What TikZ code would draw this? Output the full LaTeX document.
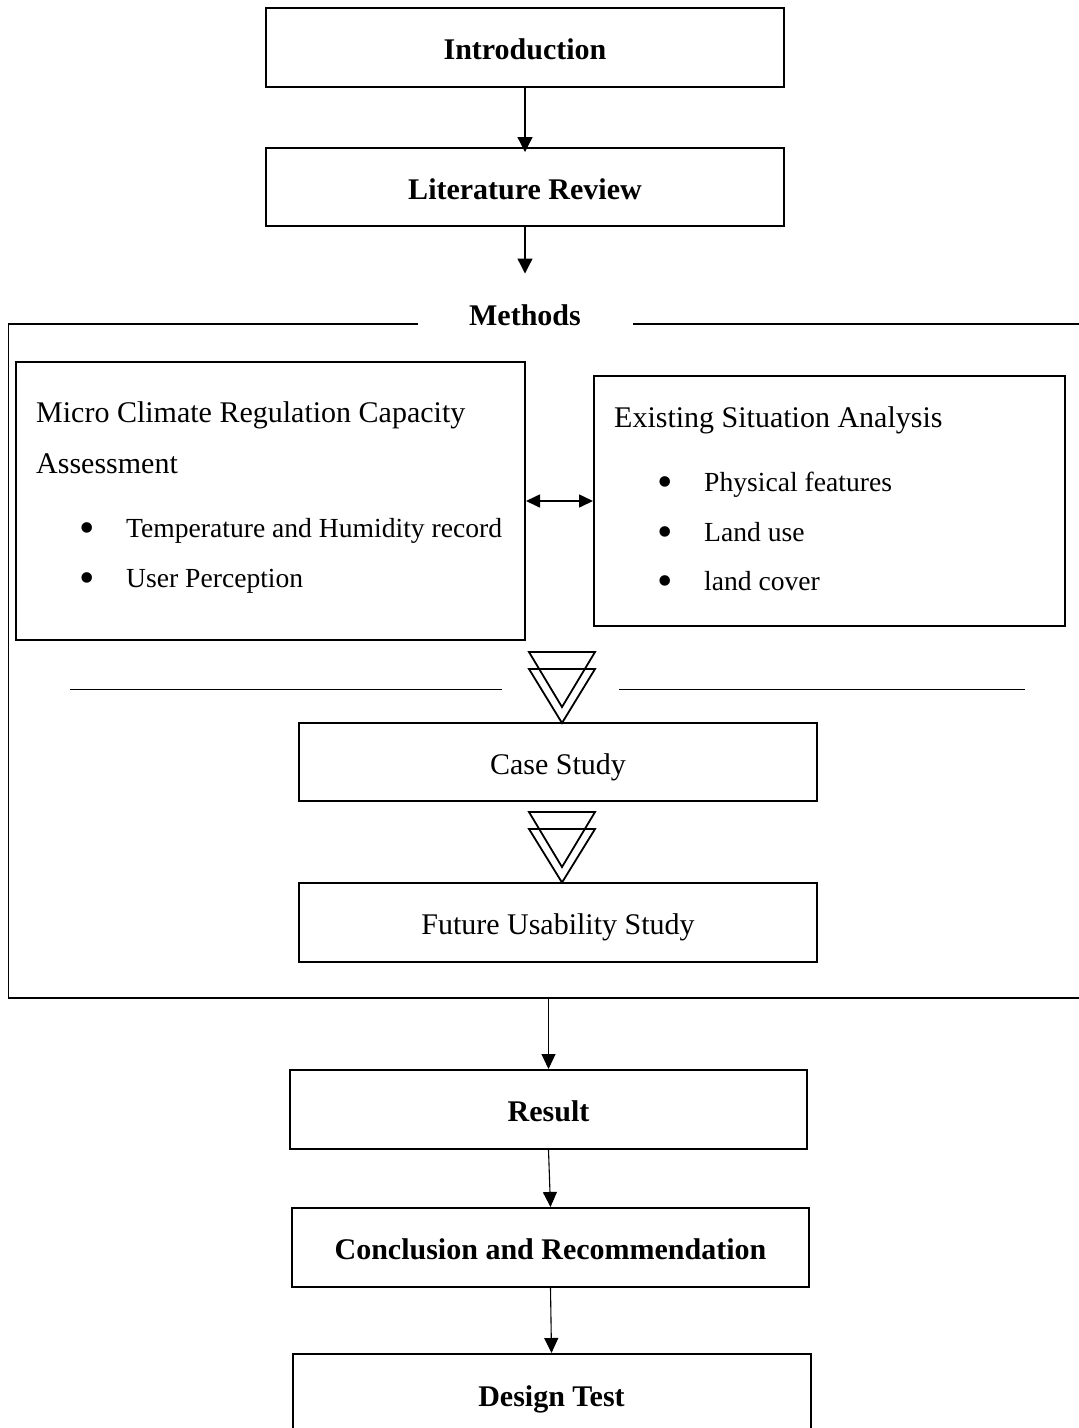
\documentclass[tikz,border=0pt]{standalone}
\usepackage{fontspec}
\setmainfont{Liberation Serif}
\usetikzlibrary{arrows.meta}
\begin{document}
\begin{tikzpicture}[x=1pt,y=-1pt,
  font=\fontsize{30}{36}\selectfont,
  box/.style={draw, line width=2pt, inner sep=0pt, text height=24pt, text depth=0pt, minimum width=518pt, minimum height=78pt},
  bigbox/.style={draw, line width=2pt, inner sep=0pt},
  arr/.style={line width=1.3pt, -{Triangle[width=15pt,length=15pt]}},
  lowarr/.style={line width=1.1pt, -{Triangle[width=14pt,length=15pt]}},
  dbl/.style={line width=1.6pt, {Triangle[width=13pt,length=14pt]}-{Triangle[width=13pt,length=14pt]}},
  lbl/.style={anchor=base west, inner sep=0pt},
  item/.style={anchor=base west, inner sep=0pt, font=\fontsize{27.6}{33}\selectfont},
  bul/.style={anchor=base, inner sep=0pt, font=\fontsize{44}{44}\selectfont},
  tri/.style={line width=1.8pt, line join=miter},
  frame/.style={line width=2.4pt},
  thinframe/.style={line width=1.3pt},
  rule/.style={line width=1.2pt}
]
\useasboundingbox (0,0) rectangle (1079,1428);
\clip (0,0) rectangle (1079,1428);

% top boxes
\node[box, minimum height=79pt] (intro) at (525,47.5) {\textbf{Introduction}};
\node[box] (lit) at (525,187) {\textbf{Literature Review}};
\draw[arr, shorten >=-5pt] (intro) -- (lit);
\coordinate (mtop) at (525,273.5);
\draw[arr] (lit.south) -- (mtop);

% methods frame
\node[anchor=base, inner sep=0pt] (meth) at (525,325.5) {\textbf{Methods}};
\draw[frame] (8,324) -- (418,324);
\draw[frame] (633,324) -- (1079,324);
\draw[thinframe] (8.6,324) -- (8.6,998);
\draw[frame] (8,998) -- (1079,998);

% left / right boxes
\node[bigbox, minimum width=509pt, minimum height=278pt] (mcr) at (270.5,501) {};
\node[bigbox, minimum width=471pt, minimum height=250pt] (esa) at (829.5,501) {};
\draw[dbl] (mcr.east) -- (esa.west);

\node[lbl] (t1) at (36,422) {Micro Climate Regulation Capacity};
\node[lbl] (t2) at (36,473) {Assessment};
\node[bul] (b1) at (87,542.5) {•};
\node[item] (t3) at (126,537) {Temperature and Humidity record};
\node[bul] (b2) at (87,592) {•};
\node[item] (t4) at (126,587) {User Perception};

\node[lbl] (t5) at (614,427) {Existing Situation Analysis};
\node[bul] (b3) at (665,496) {•};
\node[item] (t6) at (704,491) {Physical features};
\node[bul] (b4) at (665,546) {•};
\node[item] (t7) at (704,541) {Land use};
\node[bul] (b5) at (665,595) {•};
\node[item] (t8) at (704,590) {land cover};

% separator rule
\draw[rule] (70,689.5) -- (502,689.5);
\draw[rule] (619,689.5) -- (1025,689.5);

% triangles
\draw[tri] (529,652) -- (595,652) -- (562,707) -- cycle;
\draw[tri] (529,669) -- (595,669) -- (562,723) -- cycle;

\node[box] (cs) at (558,762) {Case Study};

\draw[tri] (529,812) -- (595,812) -- (562,867) -- cycle;
\draw[tri] (529,829) -- (595,829) -- (562,882.5) -- cycle;

\node[box, minimum height=79pt] (fus) at (558,922.5) {Future Usability Study};

% lower boxes
\node[box, minimum width=517pt, minimum height=79pt] (res) at (548.5,1109.5) {\textbf{Result}};
\node[box, minimum width=517pt, minimum height=79pt] (con) at (550.5,1247.5) {\textbf{Conclusion and Recommendation}};
\node[box, minimum width=518pt, minimum height=80pt] (dt) at (551.5,1394) {\textbf{Design Test}};

\coordinate (fb) at (548.5,998);
\draw[lowarr] (fb) -- (res.north);
\draw[lowarr] (res.south) -- (con.north);
\draw[lowarr] (con.south) -- (dt.north);
\end{tikzpicture}
\end{document}
